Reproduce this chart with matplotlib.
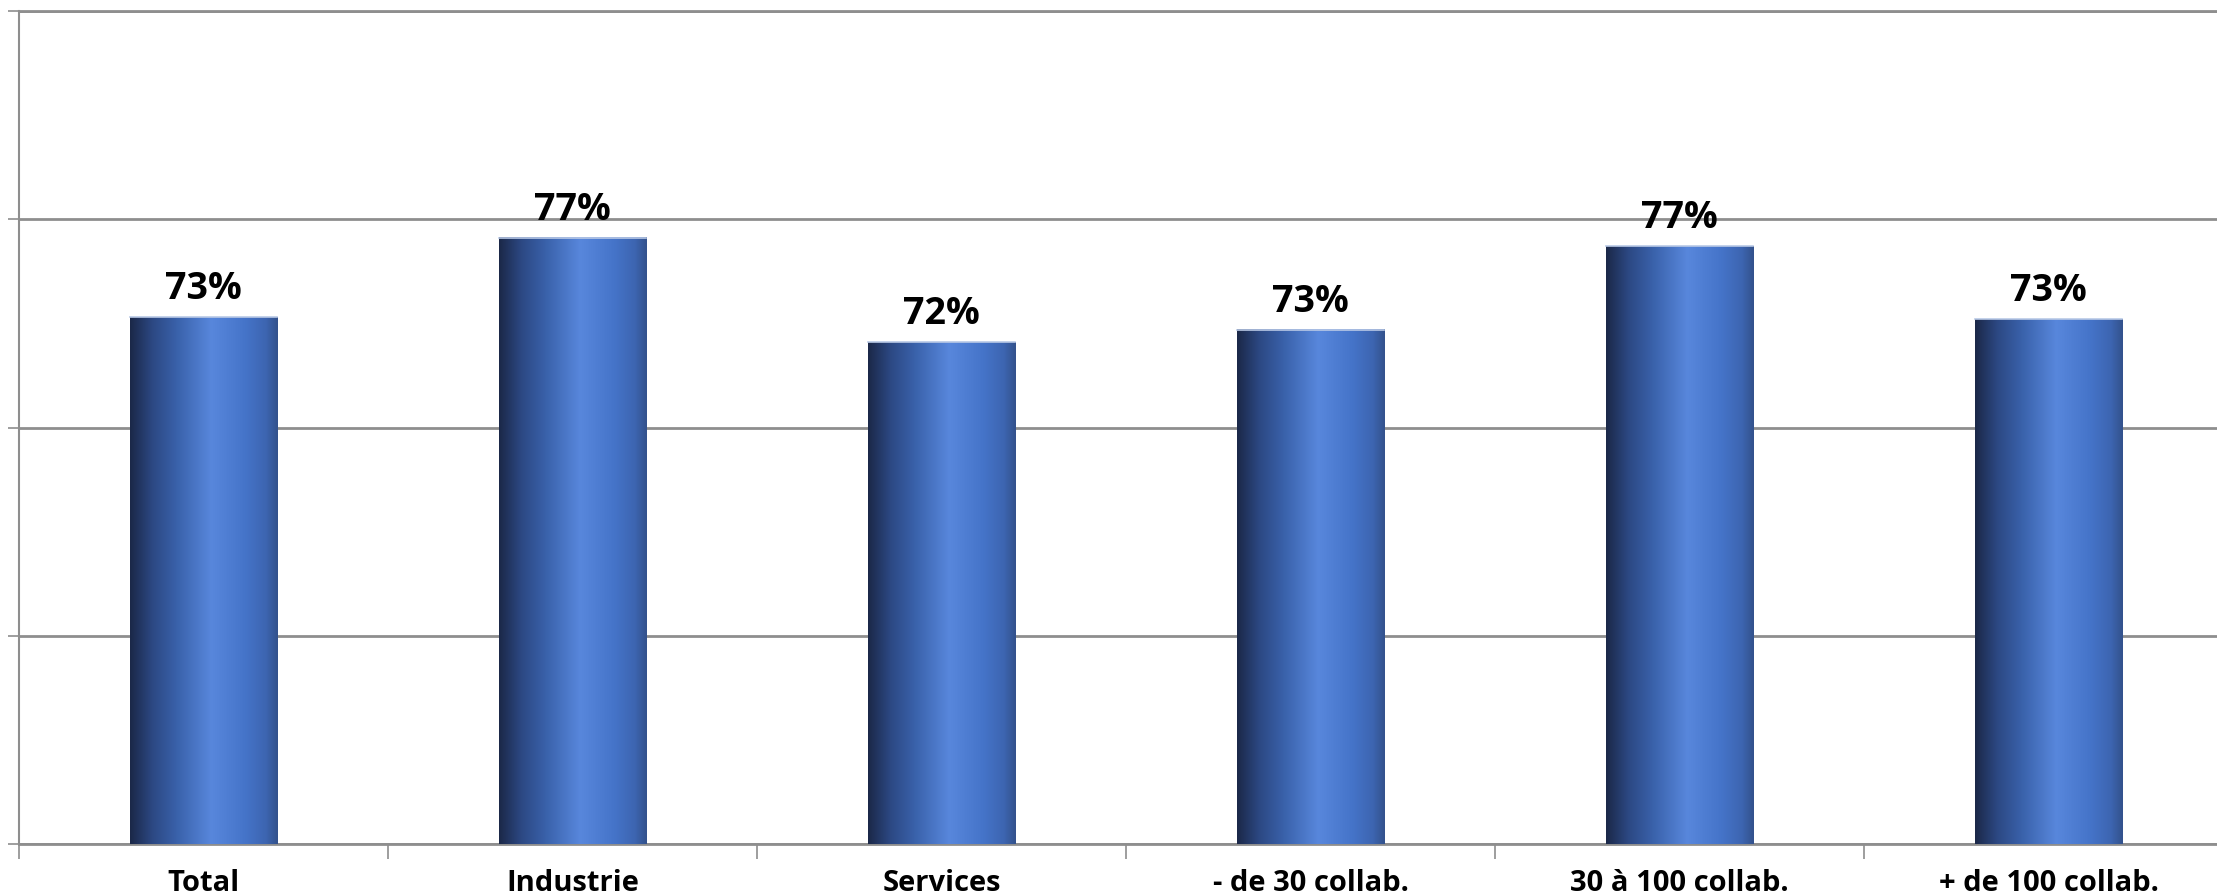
import numpy as np
import matplotlib.pyplot as plt
from matplotlib.colors import LinearSegmentedColormap
from matplotlib.ticker import FixedLocator, NullFormatter

plt.rcParams['font.family'] = ['Open Sans', 'DejaVu Sans']

categories = ['Total', 'Industrie', 'Services', '- de 30 collab.',
              '30 à 100 collab.', '+ de 100 collab.']
values = [0.733, 0.771, 0.721, 0.727, 0.767, 0.732]

y_min = 0.48
y_max = 0.88
y_step = 0.1

# horizontal shading of the bars (dark left edge, light band, darker right edge)
bar_cmap = LinearSegmentedColormap.from_list('bar', [
    (0.00, '#1b2848'),
    (0.15, '#2c4883'),
    (0.32, '#3a62ab'),
    (0.55, '#5887dc'),
    (0.78, '#4574c9'),
    (0.92, '#3d65b1'),
    (1.00, '#33528c'),
])

fig = plt.figure(figsize=(22.17, 8.96), dpi=100)
ax = fig.add_axes([19 / 2217, 52 / 896, 1 - 19 / 2217, 833 / 896])

x = np.arange(len(categories))
bars = ax.bar(x, values, width=0.4, bottom=0, color='none', zorder=3)

grad = np.linspace(0, 1, 256).reshape(1, -1)
for b in bars:
    x0, w, h = b.get_x(), b.get_width(), b.get_height()
    ax.imshow(grad, cmap=bar_cmap, aspect='auto', zorder=3,
              extent=(x0, x0 + w, y_min, h), interpolation='bicubic')
    ax.plot([x0, x0 + w], [h, h], color='#b9c9e6', lw=1.2, zorder=4)

for xi, v in zip(x, values):
    ax.annotate('%d%%' % round(v * 100), (xi, v), xytext=(0, 13),
                textcoords='offset points', ha='center', va='baseline',
                fontsize=27, fontweight='bold', color='black', zorder=5)

# grid
ax.yaxis.set_major_locator(FixedLocator(np.arange(y_min, y_max + 0.001, y_step)))
ax.yaxis.set_major_formatter(NullFormatter())
ax.grid(axis='y', color='#8e8e8e', lw=2.0, zorder=1)
ax.tick_params(axis='y', length=8, width=1.2, color='#8e8e8e', direction='out')

ax.set_xticks(x)
ax.set_xticklabels(categories, fontsize=21, fontweight='bold')
ax.set_xticks(np.arange(-0.5, len(categories) - 1, 1), minor=True)
ax.tick_params(axis='x', which='major', length=0, pad=18)
ax.tick_params(axis='x', which='minor', length=11, width=1.2, color='#8e8e8e')

# limits last: set_xticks and imshow would widen them otherwise
# (the plot runs past the right edge of the picture, as in the original)
ax.set_xlim(-0.5, -0.5 + (2217 - 19) / 369)
ax.set_ylim(y_min, y_max)

for s in ['top', 'bottom']:
    ax.spines[s].set_color('#8e8e8e')
    ax.spines[s].set_linewidth(2.0)
ax.spines['left'].set_color('#8e8e8e')
ax.spines['left'].set_linewidth(1.5)
ax.spines['right'].set_visible(False)

fig.savefig('out.png', dpi=100)
